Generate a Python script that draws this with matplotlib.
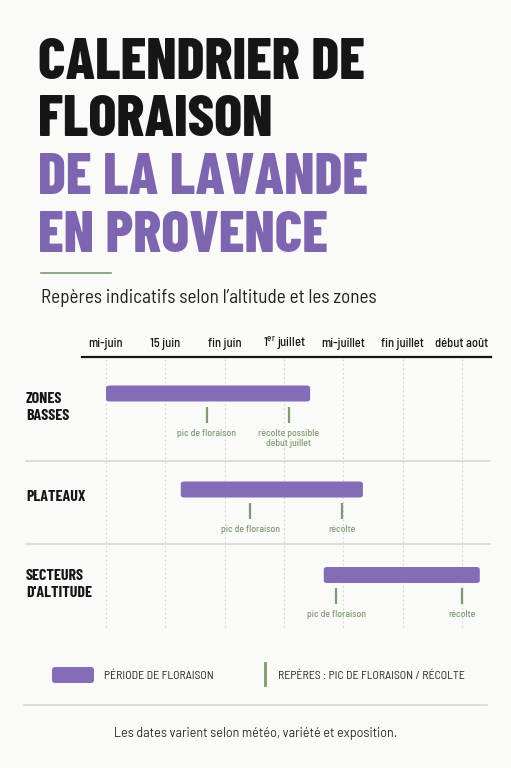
import matplotlib.pyplot as plt
from matplotlib.patches import FancyBboxPatch

# data
tick_labels = ["mi-juin", "15 juin", "fin juin", "1$^{\\mathregular{er}}$ juillet",
               "mi-juillet", "fin juillet", "début août"]
rows = ["ZONES\nBASSES", "PLATEAUX", "SECTEURS\nD'ALTITUDE"]
bloom_start = [0.0, 1.26, 3.67]
bloom_end = [3.44, 4.33, 6.30]
peak = [1.70, 2.43, 3.88]
harvest = [3.08, 3.98, 6.00]
peak_labels = ["pic de floraison", "pic de floraison", "pic de floraison"]
harvest_labels = ["récolte possible\ndébut juillet", "récolte", "récolte"]

W, H = 511, 768
bg = "#FAFAF8"
purple = "#856CB7"
title_purple = "#7D65B0"
green = "#7E9A70"
dark = "#161616"
grid = "#D2D2D2"
cond = ["Barlow Condensed", "Roboto Condensed", "DejaVu Sans"]
semi = ["Barlow Semi Condensed", "Roboto Condensed", "DejaVu Sans"]
reg = ["Barlow", "DejaVu Sans"]

fig = plt.figure(figsize=(W / 100, H / 100), dpi=100, facecolor=bg)

# layout axes in pixel units
lay = fig.add_axes([0, 0, 1, 1])
lay.set_xlim(0, W)
lay.set_ylim(H, 0)
lay.axis("off")

title_lines = [("CALENDRIER DE", dark, 79), ("FLORAISON", dark, 136),
               ("DE LA LAVANDE", title_purple, 194), ("EN PROVENCE", title_purple, 252)]
for txt, c, yb in title_lines:
    lay.text(38, yb, txt, color=c, fontsize=42, fontweight=800,
             family=cond, va="baseline", ha="left")

lay.plot([41, 111], [273, 273], color=green, lw=1.2)
lay.text(41, 298, "Repères indicatifs selon l’altitude et les zones", fontsize=13.8,
         family=semi, color="#222222", va="center")

# chart axes: x in period index, y in pixel rows
left, right, top, bottom = 25, 491, 357, 628
ax = fig.add_axes([left / W, 1 - bottom / H, (right - left) / W, (bottom - top) / H])
ax.set_facecolor("none")
px = 59.33
x0, x1 = -(106 - left) / px, (right - 106) / px
ax.set_xlim(x0, x1)
ax.set_ylim(bottom, top)
for s in ax.spines.values():
    s.set_visible(False)
ax.set_yticks([])
ax.xaxis.tick_top()
ax.set_xticks(range(len(tick_labels)))
ax.set_xticklabels(tick_labels, family=semi, fontsize=9, fontweight="medium", color=dark)
for lbl in ax.get_xticklabels():
    lbl.set_va("baseline")
ax.tick_params(axis="x", length=0, pad=7)
ax.axhline(top, xmin=(82 - left) / (right - left), xmax=1, color=dark, lw=1.6, clip_on=False)
for i in range(len(tick_labels)):
    ax.plot([i, i], [top + 2, bottom], color=grid, lw=0.8, ls=(0, (1.5, 2.5)), zorder=0)

for y in [460.5, 544]:
    ax.plot([x0, x1], [y, y], color="#D8D8D8", lw=1.2)

bar_y = [393.5, 489.5, 575]
label_y = [[399, 416], [497], [576, 593]]
bh = 16
for i, name in enumerate(rows):
    box = FancyBboxPatch((bloom_start[i], bar_y[i] - bh / 2), bloom_end[i] - bloom_start[i], bh,
                         boxstyle="round,pad=0,rounding_size=0.06", mutation_aspect=40,
                         fc=purple, ec="none", zorder=3)
    ax.add_patch(box)
    for j, part in enumerate(name.split("\n")):
        lay.text(26, label_y[i][j], part, fontsize=11.5, fontweight="bold", family=cond,
                 color=dark, va="center")
    t0 = bar_y[i] + bh / 2 + 5
    ax.vlines([peak[i], harvest[i]], t0, t0 + 16, color=green, lw=1.6)
    ax.text(peak[i], t0 + 22, peak_labels[i], ha="center", va="top",
            family=semi, fontsize=7, fontweight="medium", color=green)
    ax.text(harvest[i], t0 + 22, harvest_labels[i], ha="center", va="top",
            family=semi, fontsize=7, fontweight="medium", color=green, linespacing=1.25)

# legend
lay.add_patch(FancyBboxPatch((52, 667), 42, 16, boxstyle="round,pad=0,rounding_size=3",
                             fc=purple, ec="none"))
lay.text(104, 676, "PÉRIODE DE FLORAISON", family=semi, fontsize=8.5, color="#2A2A2A", va="center")
lay.plot([265, 265], [663, 685], color=green, lw=2)
lay.text(278, 676, "REPÈRES : PIC DE FLORAISON / RÉCOLTE", family=semi, fontsize=8.5,
         color="#2A2A2A", va="center")
lay.plot([24, 487], [705, 705], color="#D8D8D8", lw=1.2)

lay.text(256, 733, "Les dates varient selon météo, variété et exposition.", fontsize=9,
         family=reg, color="#2A2A2A", ha="center", va="center")

fig.savefig("out.png", dpi=100, facecolor=bg)
